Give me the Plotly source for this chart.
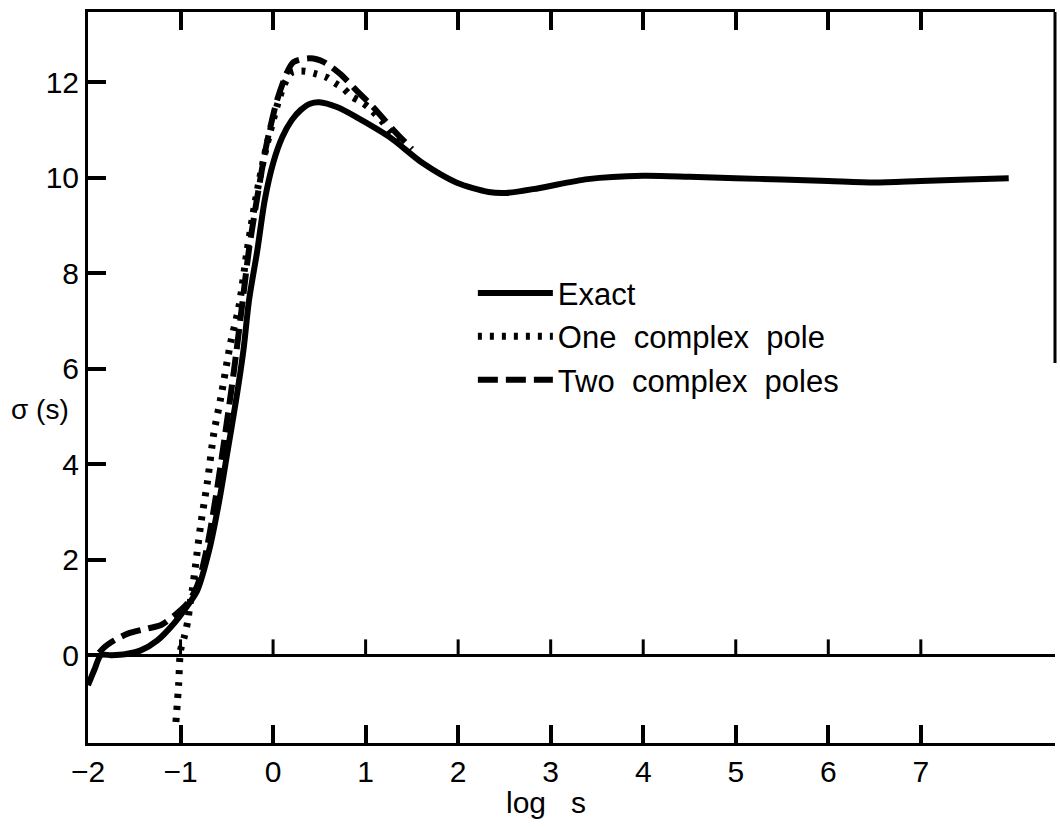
import plotly.graph_objects as go

# ---- data ----
exact_x = [-2.0, -1.93, -1.86, -1.75, -1.6, -1.43, -1.25, -1.06, -0.92, -0.82, -0.69, -0.58,
           -0.49, -0.40, -0.32, -0.26, -0.17, -0.09, 0.0, 0.1, 0.2, 0.3, 0.4, 0.5, 0.69, 0.9, 1.26,
           1.62, 1.98, 2.33, 2.52, 2.87, 3.4, 4.0, 4.5, 5.0, 5.5, 6.0, 6.5, 7.0, 7.5, 7.95]
exact_y = [-0.63, -0.3, 0.0, 0.0, 0.02, 0.1, 0.31, 0.69, 1.05, 1.35, 2.2, 3.25,
           4.29, 5.34, 6.39, 7.43, 8.48, 9.53, 10.3, 10.85, 11.2, 11.42, 11.55, 11.58, 11.48, 11.27, 10.85,
           10.3, 9.9, 9.7, 9.68, 9.78, 9.97, 10.04, 10.02, 9.99, 9.96, 9.93, 9.9, 9.93, 9.96, 9.99]

one_pole_x = [-1.05, -1.02, -1.0, -0.96, -0.92, -0.9, -0.87, -0.84, -0.78, -0.71, -0.64,
              -0.57, -0.46, -0.37, -0.28, -0.19, -0.08, 0.04, 0.12, 0.2, 0.34, 0.47, 0.58,
              0.67, 0.76, 0.85, 0.96, 1.04, 1.17, 1.3, 1.42]
one_pole_y = [-1.4, -0.6, 0.1, 0.38, 0.73, 1.05, 1.4, 1.85, 2.76, 3.62, 4.65,
              5.34, 6.53, 7.29, 8.48, 9.53, 10.58, 11.48, 11.95, 12.2, 12.23, 12.17, 12.1,
              11.98, 11.87, 11.7, 11.58, 11.46, 11.2, 10.9, 10.65]

two_poles_x = [-1.88, -1.82, -1.75, -1.57, -1.35, -1.21, -1.06, -1.0, -0.92, -0.82, -0.72,
               -0.62, -0.52, -0.42, -0.33, -0.26, -0.17, -0.07, 0.04, 0.15, 0.22, 0.4,
               0.55, 0.72, 0.9, 1.08, 1.3, 1.5]
two_poles_y = [0.05, 0.17, 0.27, 0.45, 0.56, 0.63, 0.84, 0.94, 1.1, 1.45, 2.2,
               3.3, 4.6, 6.0, 7.4, 8.5, 9.6, 10.7, 11.6, 12.2, 12.42, 12.5,
               12.42, 12.18, 11.83, 11.48, 11.0, 10.6]

x_ticks = [-2, -1, 0, 1, 2, 3, 4, 5, 6, 7]
x_tick_text = ["\u22122", "\u22121", "0", "1", "2", "3", "4", "5", "6", "7"]
frame_x_ticks = [-1, 0, 1, 2, 3, 4, 5, 6, 7]      # tick marks on bottom, top and zero line
y_ticks = [0, 2, 4, 6, 8, 10, 12]

names = ["Exact", "One\u00a0\u00a0complex\u00a0\u00a0pole", "Two\u00a0\u00a0complex\u00a0\u00a0poles"]

FONT = "Liberation Sans"
X_RANGE = [-2, 8.45]
Y_RANGE = [-1.84, 13.47]
ZERO_TICK_H = 0.33   # zero-line tick height in sigma units (about 16 px)

fig = go.Figure()
fig.add_trace(go.Scatter(x=exact_x, y=exact_y, mode="lines", name=names[0],
                         line=dict(color="black", width=6, shape="spline", smoothing=0.8)))
fig.add_trace(go.Scatter(x=one_pole_x, y=one_pole_y, mode="lines", name=names[1],
                         line=dict(color="black", width=7, dash="4px,8px", shape="spline", smoothing=0.8)))
fig.add_trace(go.Scatter(x=two_poles_x, y=two_poles_y, mode="lines", name=names[2],
                         line=dict(color="black", width=6, dash="20px,8px", shape="spline", smoothing=0.8)))

# tick marks standing on the zero line, drawn as error bars from y = 0 upward
fig.add_trace(go.Scatter(
    x=frame_x_ticks, y=[0] * len(frame_x_ticks), mode="markers",
    marker=dict(size=0.1, color="black"), showlegend=False, hoverinfo="skip",
    error_y=dict(type="data", symmetric=False, array=[ZERO_TICK_H] * len(frame_x_ticks),
                 arrayminus=[0] * len(frame_x_ticks), color="black", thickness=3, width=0)))

shapes = [dict(type="line", xref="paper", yref="paper", x0=1, x1=1, y0=0.52, y1=1,
               line=dict(color="black", width=3))]

fig.update_layout(
    width=1060, height=827,
    margin=dict(l=88, r=5, t=12, b=84),
    paper_bgcolor="white", plot_bgcolor="white",
    font=dict(family=FONT, color="black", size=30),
    showlegend=True,
    legend=dict(x=0.398, y=0.652, xanchor="left", yanchor="top",
                bgcolor="rgba(0,0,0,0)", font=dict(size=31, family=FONT),
                itemwidth=75),
    xaxis=dict(range=X_RANGE, tickmode="array", tickvals=x_ticks, ticktext=x_tick_text,
               showgrid=False, zeroline=False, showline=True, linecolor="black",
               linewidth=3, mirror="allticks", ticks="inside", ticklen=18, tickwidth=4,
               tickcolor="black", tickfont=dict(size=30, family=FONT)),
    yaxis=dict(range=Y_RANGE, tickmode="array", tickvals=y_ticks, showgrid=False,
               zeroline=True, zerolinecolor="black", zerolinewidth=3,
               showline=True, linecolor="black", linewidth=3, ticks="inside",
               ticklen=18, tickwidth=4, tickcolor="black",
               tickfont=dict(size=30, family=FONT)),
    annotations=[
        dict(text="\u03c3 (s)", xref="paper", yref="y", x=-0.05, y=5.15,
             showarrow=False, font=dict(size=28, family=FONT), xanchor="center"),
        dict(text="log\u00a0\u00a0\u00a0s", xref="x", yref="paper", x=2.95, y=-0.082,
             showarrow=False, font=dict(size=30, family=FONT), xanchor="center", yanchor="middle"),
    ],
    shapes=shapes,
)

fig.write_html("out.html")
